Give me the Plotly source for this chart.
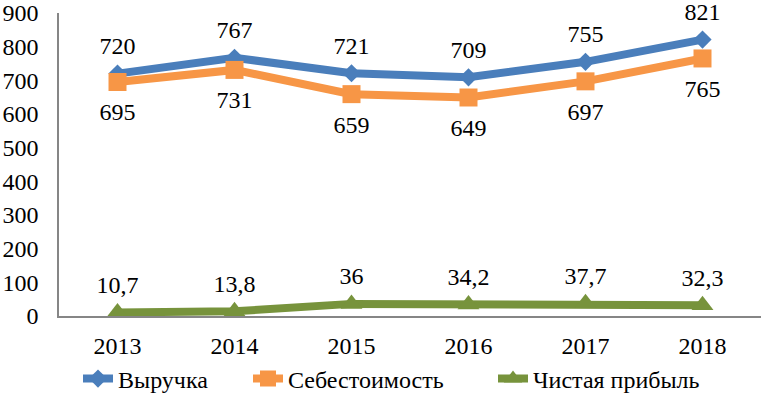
import plotly.graph_objects as go

years = ["2013", "2014", "2015", "2016", "2017", "2018"]
revenue = [720, 767, 721, 709, 755, 821]
cost = [695, 731, 659, 649, 697, 765]
profit = [10.7, 13.8, 36, 34.2, 37.7, 32.3]
revenue_labels = ["720", "767", "721", "709", "755", "821"]
cost_labels = ["695", "731", "659", "649", "697", "765"]
profit_labels = ["10,7", "13,8", "36", "34,2", "37,7", "32,3"]

FAM = "Liberation Serif, Times New Roman, serif"
font = dict(family=FAM, size=24, color="black")

BLUE = "#4A7EBB"
ORANGE = "#F79646"
GREEN = "#77933C"

fig = go.Figure()
fig.add_trace(go.Scatter(
    x=years, y=revenue, name="Выручка", mode="lines+markers",
    line=dict(color=BLUE, width=8),
    marker=dict(symbol="diamond", size=14, color=BLUE),
    legend="legend", hoverinfo="skip",
))
fig.add_trace(go.Scatter(
    x=years, y=cost, name="Себестоимость", mode="lines+markers",
    line=dict(color=ORANGE, width=8),
    marker=dict(symbol="square", size=18, color=ORANGE),
    legend="legend2", hoverinfo="skip",
))
fig.add_trace(go.Scatter(
    x=years, y=profit, name="Чистая прибыль", mode="lines+markers",
    line=dict(color=GREEN, width=8),
    marker=dict(symbol="triangle-up", size=19, color=GREEN),
    legend="legend3", hoverinfo="skip",
))

# data labels: text-only traces whose invisible markers set the label offset
for ys, labels, pos, pad in [(revenue, revenue_labels, "top center", 20),
                             (cost, cost_labels, "bottom center", 31),
                             (profit, profit_labels, "top center", 20)]:
    fig.add_trace(go.Scatter(
        x=years, y=ys, mode="markers+text", text=labels, textposition=pos,
        textfont=font, marker=dict(size=pad, color="rgba(0,0,0,0)"),
        showlegend=False, hoverinfo="skip", cliponaxis=False,
    ))

leg_common = dict(orientation="h", xref="container", yref="container",
                  xanchor="left", yanchor="middle", y=1 - 379 / 393,
                  font=font, itemwidth=30, bgcolor="rgba(0,0,0,0)",
                  borderwidth=0)

fig.update_layout(
    width=762, height=393,
    margin=dict(l=59, r=1, t=13, b=77),
    paper_bgcolor="white", plot_bgcolor="white",
    font=font,
    showlegend=True,
    legend=dict(x=78 / 762, **leg_common),
    legend2=dict(x=248 / 762, **leg_common),
    legend3=dict(x=493 / 762, **leg_common),
)
fig.update_xaxes(type="category", range=[-0.5, 5.5], showgrid=False,
                 showline=True, linecolor="#868686", linewidth=1.5,
                 ticks="", tickfont=font, automargin=False, ticklabelstandoff=7)
fig.update_yaxes(range=[0, 900], dtick=100, showgrid=False,
                 showline=True, linecolor="#868686", linewidth=1.5,
                 ticks="", tickfont=font, zeroline=False, automargin=False,
                 ticklabelstandoff=14)

fig.write_html("out.html", config={"displayModeBar": False},
               post_script="document.body.style.margin='0';")
